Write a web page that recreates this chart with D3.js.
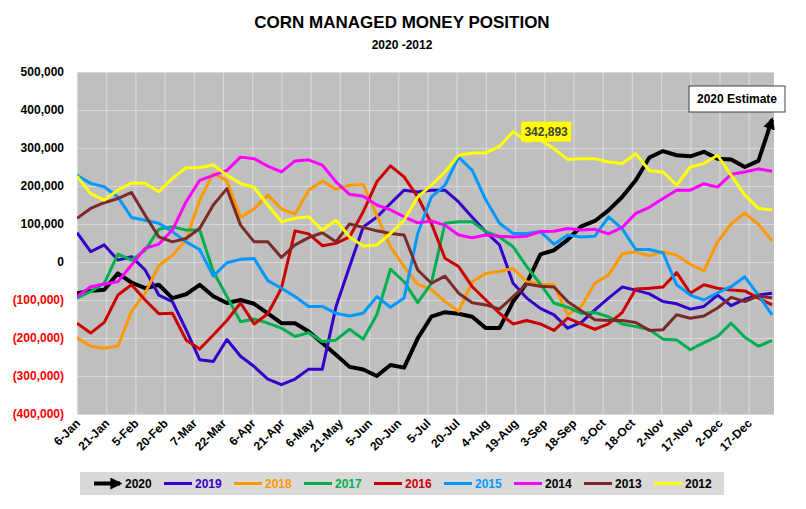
<!DOCTYPE html>
<html>
<head>
<meta charset="utf-8">
<script src="https://cdn.jsdelivr.net/npm/d3@7"></script>
<style>
  body { margin: 0; background: #fff; }
  text { font-family: "Liberation Sans", Arial, sans-serif; font-weight: bold; }
</style>
</head>
<body>
<svg id="chart" width="806" height="509"></svg>
<script>
// week-by-week managed money net position, thousands of contracts
const years = ['2020', '2019', '2018', '2017', '2016', '2015', '2014', '2013', '2012'];
const colors = ['#000000', '#3300CC', '#FF9900', '#00B050', '#CC0000', '#0099FF', '#FF00FF', '#7B2A2A', '#FFFF00'];
const legendTextColors = ['#000000', '#3300CC', '#FF9900', '#00B050', '#CC0000', '#0099FF', '#000000', '#000000', '#000000'];

const y2020 = [-82,-76,-73,-30,-54,-69,-60,-95,-85,-60,-90,-108,-100,-110,-135,-161,-161,-183,-213,-244,-276,-283,-300,-271,-278,-201,-144,-132,-136,-144,-174,-174,-104,-56,20,31,58,94,108,136,171,215,275,292,281,278,290,272,270,250,266,375];
const y2019 = [77,27,45,5,14,-21,-87,-104,-178,-257,-262,-204,-248,-275,-308,-323,-308,-282,-282,-118,-12,92,118,154,189,184,189,189,158,118,79,45,-56,-95,-122,-139,-174,-159,-126,-95,-66,-74,-84,-104,-110,-124,-117,-87,-115,-98,-87,-82];
const y2018 = [-199,-222,-227,-221,-130,-82,-10,18,58,163,233,214,117,140,176,140,126,189,213,191,202,204,123,40,-12,-59,-72,-104,-130,-52,-30,-25,-17,-52,-58,-60,-139,-117,-56,-34,21,27,16,27,18,-6,-23,53,100,129,99,56];
const y2017 = [-95,-78,-56,21,5,31,86,93,84,84,-25,-91,-157,-150,-161,-174,-196,-186,-209,-205,-177,-203,-139,-19,-52,-107,-56,102,106,106,80,66,40,-12,-58,-108,-119,-135,-133,-144,-163,-170,-178,-203,-205,-231,-212,-196,-161,-198,-222,-206];
const y2016 = [-161,-187,-159,-87,-60,-100,-136,-135,-205,-229,-192,-154,-108,-163,-136,-69,82,74,43,49,66,132,211,253,224,171,102,10,-12,-65,-100,-135,-163,-154,-163,-180,-148,-163,-177,-163,-133,-71,-69,-66,-28,-82,-60,-69,-74,-76,-95,-113];
const y2015 = [228,207,198,171,117,110,102,80,53,33,-37,-2,7,9,-49,-69,-91,-117,-117,-135,-142,-135,-91,-119,-95,75,171,202,276,241,163,102,75,75,80,47,71,66,68,119,88,33,33,24,-60,-87,-100,-81,-65,-39,-87,-139];
const y2014 = [-91,-65,-58,-52,-8,36,47,84,158,215,228,241,276,272,252,237,266,269,255,211,178,173,150,137,119,103,108,97,71,64,71,68,66,68,80,81,88,84,86,74,91,128,144,167,189,189,206,197,231,237,245,239];
const y2013 = [115,141,156,167,183,123,66,53,62,88,150,193,97,53,53,12,45,64,77,53,100,91,82,75,71,-21,-56,-37,-82,-107,-113,-124,-91,-58,-64,-66,-104,-128,-152,-154,-154,-159,-180,-178,-139,-148,-142,-121,-93,-104,-89,-95];
const y2012 = [226,180,163,189,208,207,185,220,248,248,256,228,207,196,150,106,115,119,84,110,66,42,45,75,110,171,202,237,281,287,287,304,343,318,322,298,270,272,272,263,259,285,240,237,202,250,259,281,228,176,141,137];

const seriesValues = [y2020, y2019, y2018, y2017, y2016, y2015, y2014, y2013, y2012];

const tickLabels = ['6-Jan','21-Jan','5-Feb','20-Feb','7-Mar','22-Mar','6-Apr','21-Apr','6-May','21-May','5-Jun','20-Jun',
  '5-Jul','20-Jul','4-Aug','19-Aug','3-Sep','18-Sep','3-Oct','18-Oct','2-Nov','17-Nov','2-Dec','17-Dec'];
const yTicks = [-400000,-300000,-200000,-100000,0,100000,200000,300000,400000,500000];

const peakLabel = '342,893';
const estimateLabel = '2020 Estimate';

const svg = d3.select('#chart');
const plot = { left: 77, right: 774, top: 72, bottom: 414 };

// days since 6-Jan; weekly reports
const x = d3.scaleLinear().domain([0, 358]).range([plot.left, plot.right]);
const y = d3.scaleLinear().domain([-400000, 500000]).range([plot.bottom, plot.top]);

svg.append('rect')
  .attr('x', plot.left).attr('y', plot.top)
  .attr('width', plot.right - plot.left).attr('height', plot.bottom - plot.top)
  .attr('fill', '#BFBFBF');

// gridlines
svg.append('g')
  .attr('transform', `translate(${plot.left},0)`)
  .call(d3.axisLeft(y).tickValues(yTicks).tickSize(-(plot.right - plot.left)).tickFormat(''))
  .call(g => g.select('.domain').remove())
  .call(g => g.selectAll('line').attr('stroke', '#D9D9D9').attr('stroke-width', 1.2));

svg.append('g')
  .attr('transform', `translate(0,${plot.bottom})`)
  .call(d3.axisBottom(x).tickValues(tickLabels.map((d, i) => i * 15)).tickSize(-(plot.bottom - plot.top)).tickFormat(''))
  .call(g => g.select('.domain').remove())
  .call(g => g.selectAll('line').attr('stroke', '#D9D9D9').attr('stroke-width', 1.2));

// y labels
const fmt = d3.format(',');
svg.append('g')
  .selectAll('text')
  .data(yTicks)
  .enter()
  .append('text')
  .attr('x', 64)
  .attr('y', d => y(d))
  .attr('dy', '0.35em')
  .attr('text-anchor', 'end')
  .attr('font-size', 12)
  .attr('fill', d => d < 0 ? '#FF0000' : '#000')
  .text(d => d < 0 ? `(${fmt(-d)})` : fmt(d));

// x labels
svg.append('g')
  .selectAll('text')
  .data(tickLabels)
  .enter()
  .append('text')
  .attr('transform', (d, i) => `translate(${x(i * 15) + 4},${plot.bottom + 10}) rotate(-45)`)
  .attr('text-anchor', 'end')
  .attr('font-size', 12)
  .attr('fill', '#000')
  .text(d => d);

// arrowhead
const defs = svg.append('defs');
defs.append('marker')
  .attr('id', 'arrow')
  .attr('viewBox', '0 0 10 10')
  .attr('refX', 8).attr('refY', 5)
  .attr('markerWidth', 12).attr('markerHeight', 12)
  .attr('markerUnits', 'userSpaceOnUse')
  .attr('orient', 'auto')
  .append('path')
  .attr('d', 'M0,0 L10,5 L0,10 Z')
  .attr('fill', '#000');

const line = d3.line()
  .x((d, i) => x(i * 7))
  .y(d => y(d * 1000));

svg.append('defs').append('clipPath').attr('id', 'clip')
  .append('rect')
  .attr('x', plot.left).attr('y', plot.top - 20)
  .attr('width', plot.right - plot.left + 6).attr('height', plot.bottom - plot.top + 20);

const lines = svg.append('g').attr('clip-path', 'url(#clip)');
seriesValues.forEach((vals, k) => {
  lines.append('path')
    .datum(vals)
    .attr('d', line)
    .attr('fill', 'none')
    .attr('stroke', colors[k])
    .attr('stroke-width', k === 0 ? 4 : 3)
    .attr('stroke-linejoin', 'round')
    .attr('marker-end', k === 0 ? 'url(#arrow)' : null);
});

// peak label on 2012
const peakX = x(32 * 7), peakY = y(343000);
svg.append('rect')
  .attr('x', peakX + 8).attr('y', peakY - 10)
  .attr('width', 50).attr('height', 20)
  .attr('fill', '#FFFF00');
svg.append('text')
  .attr('x', peakX + 33).attr('y', peakY)
  .attr('dy', '0.35em')
  .attr('text-anchor', 'middle')
  .attr('font-size', 12)
  .attr('fill', '#404040')
  .text(peakLabel);

// estimate box
svg.append('rect')
  .attr('x', 689).attr('y', 86)
  .attr('width', 96).attr('height', 26)
  .attr('fill', '#fff')
  .attr('stroke', '#404040')
  .attr('stroke-width', 1);
svg.append('text')
  .attr('x', 737).attr('y', 99)
  .attr('dy', '0.35em')
  .attr('text-anchor', 'middle')
  .attr('font-size', 12)
  .attr('fill', '#000')
  .text(estimateLabel);

// titles
svg.append('text')
  .attr('x', 402).attr('y', 28)
  .attr('text-anchor', 'middle')
  .attr('font-size', 17)
  .attr('fill', '#000')
  .text('CORN MANAGED MONEY POSITION');
svg.append('text')
  .attr('x', 402).attr('y', 49)
  .attr('text-anchor', 'middle')
  .attr('font-size', 12)
  .attr('fill', '#000')
  .text('2020 -2012');

// legend
const legend = svg.append('g');
legend.append('rect')
  .attr('x', 80).attr('y', 472)
  .attr('width', 644).attr('height', 23)
  .attr('fill', '#D9D9D9');

const items = legend.selectAll('g.item')
  .data(years)
  .enter()
  .append('g')
  .attr('class', 'item')
  .attr('transform', (d, i) => `translate(${94 + i * 70},483.5)`);

items.append('line')
  .attr('x1', 0).attr('x2', (d, i) => i === 0 ? 26 : 28)
  .attr('y1', 0).attr('y2', 0)
  .attr('stroke', (d, i) => colors[i])
  .attr('stroke-width', (d, i) => i === 0 ? 4 : 3)
  .attr('marker-end', (d, i) => i === 0 ? 'url(#arrow)' : null);

items.append('text')
  .attr('x', 31)
  .attr('dy', '0.35em')
  .attr('font-size', 12)
  .attr('fill', (d, i) => legendTextColors[i])
  .text(d => d);
</script>
</body>
</html>
